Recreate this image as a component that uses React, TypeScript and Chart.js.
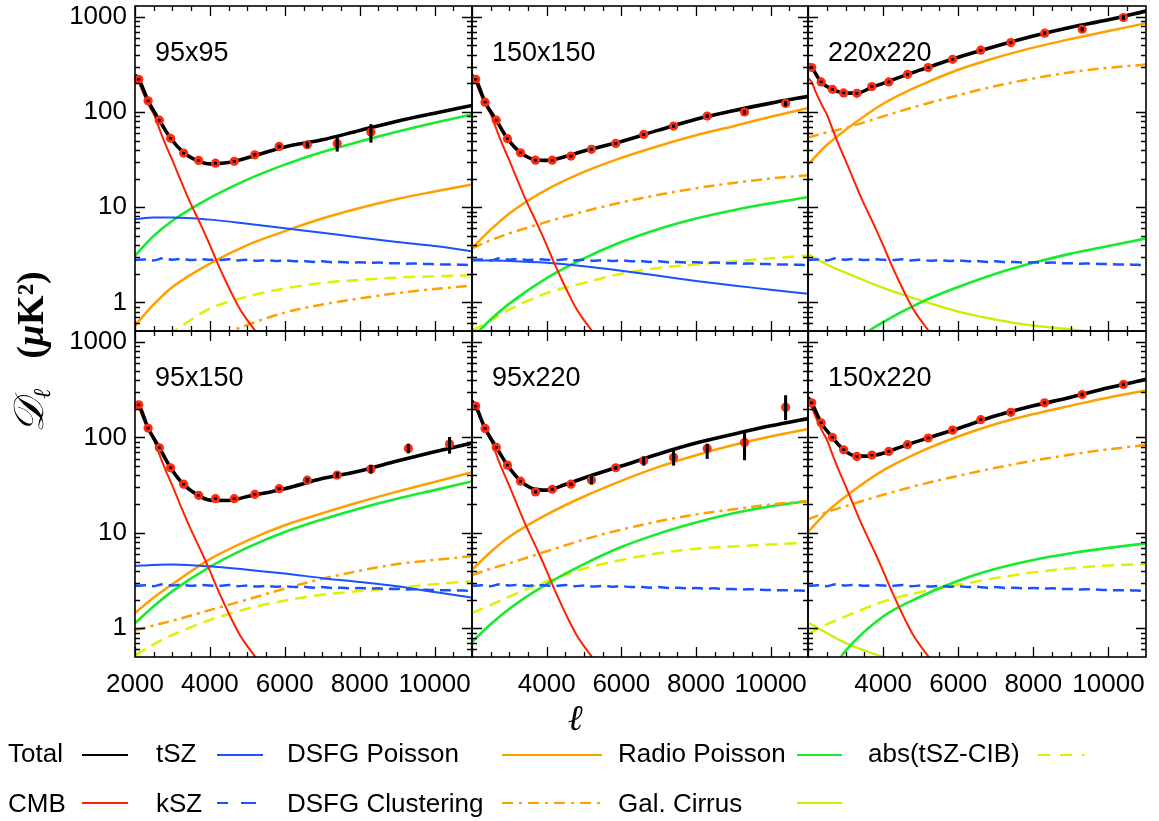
import React, { useEffect, useRef } from "react";
import { Chart, registerables } from "chart.js";

Chart.register(...registerables);

// ---------------- data ----------------
const ELL_GRID = [2000, 2500, 3000, 4000, 5000, 6000, 7000, 8000, 9000, 10000, 11000];
const TOTAL_ELL = [2000, 2100, 2350, 2650, 2950, 3300, 3700, 4000, 4500, 5000, 6000, 7000, 8000, 9000, 10000, 11000];
const DATA_ELL = [2100, 2350, 2650, 2950, 3300, 3700, 4150, 4650, 5200, 5850, 6600, 7400, 8300, 9300, 10400];

const CMB_ELL = [2000, 2100, 2200, 2300, 2400, 2500, 2600, 2800, 3000, 3200, 3400, 3600, 3800, 4000, 4200, 4400, 4600, 4800, 5000, 5300, 5600];
const CMB_VALUES = [228, 205, 165, 135, 112, 95, 75, 47, 31, 20, 13, 8.8, 6.0, 4.0, 2.6, 1.75, 1.2, 0.85, 0.65, 0.45, 0.3];

const KSZ_ELL = [2000, 2250, 2500, 2750, 3000, 3250, 3500, 3750, 4000, 4250, 4500, 4750, 5000, 5250, 5500, 5750, 6000, 6250, 6500, 6750, 7000, 7250, 7500, 7750, 8000, 8250, 8500, 8750, 9000, 9250, 9500, 9750, 10000, 10250, 10500, 10750, 11000];
const KSZ_VALUES = [2.78, 2.82, 2.76, 2.9, 2.8, 2.86, 2.78, 2.84, 2.8, 2.78, 2.84, 2.76, 2.8, 2.74, 2.78, 2.72, 2.76, 2.7, 2.72, 2.66, 2.7, 2.64, 2.66, 2.62, 2.64, 2.6, 2.62, 2.58, 2.58, 2.55, 2.56, 2.53, 2.52, 2.5, 2.5, 2.48, 2.47];

// 95x95
const TOTAL_95x95 = [245, 221, 131, 82, 53, 37.5, 30.5, 28.5, 29.5, 33, 43, 51, 64, 80, 97, 117];
const DATA_95x95 = [221, 131, 82, 53, 37, 31, 29, 30.3, 35.5, 43.5, 45.3, 46.8, 61.5];
const LO_95x95 = [218, 129, 80.5, 52, 36.3, 30.3, 28.3, 29.5, 34.5, 42, 42.5, 38.7, 48];
const HI_95x95 = [224, 133, 83.5, 54, 37.7, 31.7, 29.7, 31.1, 36.5, 45, 48.5, 55.6, 74];
const TSZ_95x95 = [7.5, 7.8, 7.8, 7.4, 6.7, 6.0, 5.4, 4.8, 4.3, 3.9, 3.45];
const RADIO_95x95 = [3.1, 5.0, 7.2, 12.5, 19.5, 28, 38, 49, 62, 77, 94];
const DSFGP_95x95 = [0.57, 0.95, 1.45, 2.55, 4.0, 5.6, 7.6, 9.8, 12.2, 14.6, 17.3];
const DSFGC_95x95 = [0.17, 0.22, 0.28, 0.4, 0.58, 0.78, 0.95, 1.1, 1.25, 1.38, 1.5];
const TSZCIB_95x95 = [0.28, 0.38, 0.49, 0.86, 1.15, 1.4, 1.6, 1.72, 1.82, 1.88, 1.93];

// 150x150
const TOTAL_150x150 = [243, 221, 127, 82, 52.5, 37.5, 31.5, 31, 34, 39, 49, 64.5, 84, 103, 124, 146];
const DATA_150x150 = [221, 127, 82, 52.4, 37.3, 31.2, 31.2, 34.4, 40.5, 46.8, 58.2, 71.2, 90.8, 100, 123];
const LO_150x150 = [218, 125.5, 81, 51.6, 36.7, 30.7, 30.7, 33.8, 39.7, 45.8, 56.8, 69.2, 87.8, 95.5, 116];
const HI_150x150 = [224, 128.5, 83, 53.2, 37.9, 31.7, 31.7, 35, 41.3, 47.8, 59.6, 73.2, 93.8, 104.5, 130];
const TSZ_150x150 = [2.75, 2.75, 2.72, 2.6, 2.4, 2.15, 1.9, 1.68, 1.5, 1.36, 1.23];
const RADIO_150x150 = [0.42, 0.66, 0.97, 1.8, 2.9, 4.3, 5.9, 7.6, 9.3, 11, 12.7];
const DSFGP_150x150 = [3.7, 5.8, 8.6, 15.3, 23.5, 33, 44, 57, 71, 89, 110];
const DSFGC_150x150 = [3.7, 4.5, 5.3, 7.0, 9.0, 11.2, 13.5, 15.8, 18, 20, 21.7];
const TSZCIB_150x150 = [0.5, 0.65, 0.84, 1.25, 1.6, 2.0, 2.3, 2.5, 2.7, 2.9, 3.1];

// 220x220
const TOTAL_220x220 = [320, 293, 207, 173, 159, 158, 182, 200, 237, 277, 376, 491, 628, 776, 930, 1150];
const DATA_220x220 = [293, 207, 173, 158.6, 157, 185, 207, 249, 293, 358, 446, 537, 673, 741, 984];
const LO_220x220 = [289, 204, 170.5, 156, 154.5, 182, 203, 245, 287, 350, 436, 522, 650, 710, 935];
const HI_220x220 = [297, 210, 175.5, 161, 159.5, 188, 211, 253, 299, 366, 456, 552, 696, 772, 1035];
const RADIO_220x220 = [0.155, 0.24, 0.345, 0.62, 1.0, 1.45, 2.0, 2.6, 3.25, 3.9, 4.7];
const DSFGP_220x220 = [28, 45, 65, 122, 192, 278, 372, 475, 585, 710, 855];
const DSFGC_220x220 = [54, 61, 68, 90, 118, 150, 188, 225, 262, 292, 315];
const CIRRUS_220x220 = [3.2, 2.5, 2.05, 1.42, 1.05, 0.8, 0.66, 0.57, 0.52, 0.47, 0.43];

// 95x150
const TOTAL_95x150 = [232, 219, 125, 78, 48, 32, 24.5, 22, 21.8, 24, 29, 37, 44.5, 56.5, 70.5, 87];
const DATA_95x150 = [219, 125, 77.8, 48, 32.3, 24.7, 22.8, 22.8, 25.3, 29, 35.6, 40.2, 46.5, 76.6, 85.1];
const LO_95x150 = [216, 123.3, 76.8, 47.3, 31.8, 24.3, 22.4, 22.4, 24.8, 28.2, 34, 37.8, 42, 68.5, 68];
const HI_95x150 = [222, 126.7, 78.8, 48.7, 32.8, 25.1, 23.2, 23.2, 25.8, 29.8, 37.2, 42.8, 51, 85, 100];
const TSZ_95x150 = [4.5, 4.6, 4.65, 4.45, 4.1, 3.75, 3.35, 3.05, 2.75, 2.4, 2.1];
const RADIO_95x150 = [1.13, 1.7, 2.45, 4.4, 7.0, 10.2, 13.8, 18, 22.7, 28, 34.5];
const DSFGP_95x150 = [1.45, 2.1, 2.9, 5.3, 8.3, 12, 16, 21, 27, 34, 43];
const DSFGC_95x150 = [0.95, 1.07, 1.2, 1.55, 2.0, 2.6, 3.3, 4.0, 4.7, 5.2, 5.7];
const TSZCIB_95x150 = [0.52, 0.68, 0.85, 1.22, 1.6, 1.95, 2.25, 2.45, 2.65, 2.9, 3.1];

// 95x220
const TOTAL_95x220 = [240, 212, 124, 79, 51, 35, 28.5, 28, 32, 37.5, 50, 67, 87, 108, 132, 157];
const DATA_95x220 = [212, 124, 78.5, 51.1, 34.7, 26.8, 28.6, 32.3, 35.8, 48, 56.8, 61.5, 76.6, 88.5, 207];
const LO_95x220 = [209, 122.3, 77.4, 50.3, 33.9, 26.1, 27.8, 31.3, 32.3, 46.2, 51, 51, 60, 58, 153];
const HI_95x220 = [215, 125.7, 79.6, 51.9, 35.5, 27.5, 29.4, 33.3, 39.5, 49.8, 62.5, 72, 85, 117, 274];
const RADIO_95x220 = [0.72, 1.1, 1.6, 2.9, 4.7, 7.1, 9.8, 12.8, 16, 19, 21.5];
const DSFGP_95x220 = [4.1, 6.3, 9.1, 15.5, 24, 35, 49, 65, 83, 102, 122];
const DSFGC_95x220 = [3.6, 4.2, 4.8, 6.4, 8.5, 10.8, 13.2, 15.6, 17.6, 19.8, 21.5];
const TSZCIB_95x220 = [1.45, 1.75, 2.15, 3.1, 4.2, 5.2, 6.1, 6.8, 7.2, 7.55, 7.85];

// 150x220
const TOTAL_150x220 = [262, 230, 142, 100, 74, 63.5, 64, 68, 80, 93, 124, 168, 214, 263, 330, 405];
const DATA_150x220 = [230, 142, 100, 74.1, 63.1, 65.2, 71.2, 83.7, 98.4, 119, 153, 183, 230, 281, 358];
const LO_150x220 = [227, 140, 98.5, 73, 62.2, 64.2, 70.2, 82.5, 97, 117, 150, 179, 224, 271, 346];
const HI_150x220 = [233, 144, 101.5, 75.2, 64, 66.2, 72.2, 84.9, 99.8, 121, 156, 187, 236, 291, 370];
const RADIO_150x220 = [0.16, 0.3, 0.58, 1.33, 2.15, 3.15, 4.2, 5.2, 6.1, 6.95, 7.75];
const DSFGP_150x220 = [10.2, 16.5, 24, 45, 71, 102, 138, 175, 215, 262, 310];
const DSFGC_150x220 = [13.8, 16.5, 19, 25, 32, 39.5, 48, 57, 66, 75, 83];
const TSZCIB_150x220 = [0.87, 1.1, 1.33, 1.9, 2.4, 2.85, 3.35, 3.85, 4.25, 4.55, 4.7];
const CIRRUS_150x220 = [1.15, 0.89, 0.7, 0.5, 0.38, 0.3, 0.25, 0.22, 0.2, 0.18, 0.17];

// ticks
const X_LABELS_FIRST = [2000, 4000, 6000, 8000, 10000];
const X_LABELS_OTHER = [4000, 6000, 8000, 10000];
const Y_LABELS = [1, 10, 100, 1000];
const X_MAJOR_TICKS = [2000, 4000, 6000, 8000, 10000];
const X_MINOR_TICKS = [2500, 3000, 3500, 4500, 5000, 5500, 6500, 7000, 7500, 8500, 9000, 9500, 10500];
const Y_MAJOR_TICKS = [1, 10, 100, 1000];
const Y_MINOR_TICKS = [0.6, 0.7, 0.8, 0.9, 2, 3, 4, 5, 6, 7, 8, 9, 20, 30, 40, 50, 60, 70, 80, 90, 200, 300, 400, 500, 600, 700, 800, 900];

// ---------------- layout / style ----------------
const W = 1159;
const H = 821;
const COLS = [135, 472, 808, 1146];
const ROWS = [6, 331, 657];
const YW = 80;
const XH = 50;

const C_TOTAL = "#000000";
const C_CMB = "#ff2200";
const C_TSZ = "#1a50ff";
const C_DSFGP = "#ffa000";
const C_RADIO = "#14ec2c";
const C_TSZCIB = "#e0f000";
const C_CIRRUS = "#d2ec00";
const C_POINT = "#ff2a10";

const FONT = "'Liberation Sans', Arial, Helvetica, sans-serif";

type Panel = {
  label: string;
  col: number;
  row: number;
  total: number[];
  data: number[];
  lo: number[];
  hi: number[];
  tsz?: number[];
  radio: number[];
  dsfgp: number[];
  dsfgc: number[];
  tszcib?: number[];
  cirrus?: number[];
};

const PANELS: Panel[] = [
  { label: "95x95", col: 0, row: 0, total: TOTAL_95x95, data: DATA_95x95, lo: LO_95x95, hi: HI_95x95, tsz: TSZ_95x95, radio: RADIO_95x95, dsfgp: DSFGP_95x95, dsfgc: DSFGC_95x95, tszcib: TSZCIB_95x95 },
  { label: "150x150", col: 1, row: 0, total: TOTAL_150x150, data: DATA_150x150, lo: LO_150x150, hi: HI_150x150, tsz: TSZ_150x150, radio: RADIO_150x150, dsfgp: DSFGP_150x150, dsfgc: DSFGC_150x150, tszcib: TSZCIB_150x150 },
  { label: "220x220", col: 2, row: 0, total: TOTAL_220x220, data: DATA_220x220, lo: LO_220x220, hi: HI_220x220, radio: RADIO_220x220, dsfgp: DSFGP_220x220, dsfgc: DSFGC_220x220, cirrus: CIRRUS_220x220 },
  { label: "95x150", col: 0, row: 1, total: TOTAL_95x150, data: DATA_95x150, lo: LO_95x150, hi: HI_95x150, tsz: TSZ_95x150, radio: RADIO_95x150, dsfgp: DSFGP_95x150, dsfgc: DSFGC_95x150, tszcib: TSZCIB_95x150 },
  { label: "95x220", col: 1, row: 1, total: TOTAL_95x220, data: DATA_95x220, lo: LO_95x220, hi: HI_95x220, radio: RADIO_95x220, dsfgp: DSFGP_95x220, dsfgc: DSFGC_95x220, tszcib: TSZCIB_95x220 },
  { label: "150x220", col: 2, row: 1, total: TOTAL_150x220, data: DATA_150x220, lo: LO_150x220, hi: HI_150x220, radio: RADIO_150x220, dsfgp: DSFGP_150x220, dsfgc: DSFGC_150x220, tszcib: TSZCIB_150x220, cirrus: CIRRUS_150x220 },
];

const pts = (xs: number[], ys: number[]) => ys.map((y, i) => ({ x: xs[i], y }));

function lineDs(data: any[], color: string, width: number, order: number, dash: number[] = []) {
  return {
    type: "line",
    data,
    borderColor: color,
    backgroundColor: color,
    borderWidth: width,
    borderDash: dash,
    pointRadius: 0,
    fill: false,
    cubicInterpolationMode: "monotone",
    order,
  };
}

const frameTicks = {
  id: "frameTicks",
  afterDatasetsDraw(chart: any) {
    const { ctx, chartArea: a, scales } = chart;
    const x = scales.x;
    const y = scales.y;
    ctx.save();
    ctx.strokeStyle = "#000";
    ctx.lineWidth = 1.3;
    ctx.beginPath();
    const xt = (vals: number[], len: number) => {
      vals.forEach((v) => {
        const px = Math.round(x.getPixelForValue(v)) + 0.5;
        ctx.moveTo(px, a.bottom);
        ctx.lineTo(px, a.bottom - len);
        ctx.moveTo(px, a.top);
        ctx.lineTo(px, a.top + len);
      });
    };
    const yt = (vals: number[], len: number) => {
      vals.forEach((v) => {
        const py = Math.round(y.getPixelForValue(v)) + 0.5;
        ctx.moveTo(a.left, py);
        ctx.lineTo(a.left + len, py);
        ctx.moveTo(a.right, py);
        ctx.lineTo(a.right - len, py);
      });
    };
    xt(X_MAJOR_TICKS, 10);
    xt(X_MINOR_TICKS, 5);
    yt(Y_MAJOR_TICKS, 10);
    yt(Y_MINOR_TICKS, 5);
    ctx.stroke();
    ctx.lineWidth = 1.6;
    ctx.strokeRect(a.left, a.top, a.right - a.left, a.bottom - a.top);
    ctx.restore();
  },
};

function buildConfig(p: Panel): any {
  const left = COLS[p.col];
  const right = COLS[p.col + 1];
  const top = ROWS[p.row];
  const bottom = ROWS[p.row + 1];
  const showY = p.col === 0;
  const showX = p.row === 1;
  const xLabels = p.col === 0 ? X_LABELS_FIRST : X_LABELS_OTHER;

  const datasets: any[] = [];
  datasets.push({
    type: "bar",
    data: DATA_ELL.slice(0, p.data.length).map((l, i) => ({ x: l, y: [p.lo[i], p.hi[i]] })),
    backgroundColor: "#000",
    borderWidth: 0,
    barThickness: 2.4,
    grouped: false,
    order: 0,
  });
  datasets.push({
    type: "line",
    data: pts(DATA_ELL, p.data),
    showLine: false,
    pointStyle: "rect",
    pointRadius: 1.8,
    pointBackgroundColor: "#000",
    pointBorderWidth: 0,
    order: 1,
    clip: 6,
  });
  datasets.push({
    type: "line",
    data: pts(DATA_ELL, p.data),
    showLine: false,
    pointStyle: "circle",
    pointRadius: 4.6,
    pointBackgroundColor: C_POINT,
    pointBorderWidth: 0,
    order: 2,
    clip: 6,
  });
  datasets.push(lineDs(pts(TOTAL_ELL, p.total), C_TOTAL, 3.6, 3));
  datasets.push(lineDs(pts(CMB_ELL, CMB_VALUES), C_CMB, 2.0, 4));
  if (p.tsz) datasets.push(lineDs(pts(ELL_GRID, p.tsz), C_TSZ, 2.0, 5));
  datasets.push(lineDs(pts(KSZ_ELL, KSZ_VALUES), C_TSZ, 2.5, 6, [11, 6]));
  datasets.push(lineDs(pts(ELL_GRID, p.dsfgp), C_DSFGP, 2.5, 7));
  datasets.push(lineDs(pts(ELL_GRID, p.dsfgc), C_DSFGP, 2.5, 8, [11, 5, 3, 5]));
  datasets.push(lineDs(pts(ELL_GRID, p.radio), C_RADIO, 2.6, 9));
  if (p.tszcib) datasets.push(lineDs(pts(ELL_GRID, p.tszcib), C_TSZCIB, 2.5, 10, [12, 7]));
  if (p.cirrus) datasets.push(lineDs(pts(ELL_GRID, p.cirrus), C_CIRRUS, 2.3, 11));

  return {
    type: "line",
    data: { datasets },
    options: {
      responsive: false,
      animation: false,
      events: [],
      layout: {
        padding: { left: left - YW, top, right: W - right, bottom: H - bottom - XH },
      },
      plugins: { legend: { display: false }, tooltip: { enabled: false }, title: { display: false } },
      scales: {
        x: {
          type: "linear",
          min: 2000,
          max: 11000,
          offset: false,
          afterBuildTicks: (s: any) => {
            s.ticks = xLabels.map((v) => ({ value: v }));
          },
          afterFit: (s: any) => {
            s.height = XH;
            s.paddingLeft = 0;
            s.paddingRight = 0;
          },
          grid: { display: false, drawTicks: false },
          border: { display: false },
          ticks: {
            display: showX,
            autoSkip: false,
            maxRotation: 0,
            minRotation: 0,
            padding: 12,
            color: "#000",
            font: { family: FONT, size: 26 },
            callback: (v: any) => String(v),
          },
        },
        y: {
          type: "logarithmic",
          min: 0.5,
          max: 1300,
          afterBuildTicks: (s: any) => {
            s.ticks = Y_LABELS.map((v) => ({ value: v }));
          },
          afterFit: (s: any) => {
            s.width = YW;
            s.paddingTop = 0;
            s.paddingBottom = 0;
          },
          grid: { display: false, drawTicks: false },
          border: { display: false },
          ticks: {
            display: showY,
            autoSkip: false,
            padding: 8,
            color: "#000",
            font: { family: FONT, size: 26 },
            callback: (v: any) => String(v),
          },
        },
      },
    },
    plugins: [frameTicks],
  };
}

// legend layout
const LEGEND_ROW1 = [
  { text: "Total", tx: 8, x1: 82, x2: 128, color: C_TOTAL, dash: "" },
  { text: "tSZ", tx: 156, x1: 217, x2: 263, color: C_TSZ, dash: "" },
  { text: "DSFG Poisson", tx: 287, x1: 502, x2: 602, color: C_DSFGP, dash: "" },
  { text: "Radio Poisson", tx: 618, x1: 797, x2: 842, color: C_RADIO, dash: "" },
  { text: "abs(tSZ-CIB)", tx: 868, x1: 1038, x2: 1085, color: C_TSZCIB, dash: "12 10" },
];
const LEGEND_ROW2 = [
  { text: "CMB", tx: 8, x1: 82, x2: 128, color: C_CMB, dash: "" },
  { text: "kSZ", tx: 156, x1: 217, x2: 256, color: C_TSZ, dash: "11 13 15" },
  { text: "DSFG Clustering", tx: 287, x1: 502, x2: 602, color: C_DSFGP, dash: "11 6 3 6" },
  { text: "Gal. Cirrus", tx: 618, x1: 797, x2: 842, color: C_CIRRUS, dash: "" },
];

export default function App() {
  const refs = useRef<(HTMLCanvasElement | null)[]>([]);

  useEffect(() => {
    const charts: Chart[] = [];
    PANELS.forEach((p, i) => {
      const c = refs.current[i];
      if (c) charts.push(new Chart(c, buildConfig(p)));
    });
    return () => charts.forEach((c) => c.destroy());
  }, []);

  return (
    <div style={{ position: "absolute", left: 0, top: 0, width: W, height: H, background: "#fff", overflow: "hidden" }}>
      {PANELS.map((p, i) => (
        <canvas
          key={p.label}
          ref={(el) => {
            refs.current[i] = el;
          }}
          width={W}
          height={H}
          style={{ position: "absolute", left: 0, top: 0, width: W, height: H }}
        />
      ))}
      <svg width={W} height={H} style={{ position: "absolute", left: 0, top: 0, pointerEvents: "none" }}>
        {PANELS.map((p) => (
          <text key={p.label} x={COLS[p.col] + 20} y={ROWS[p.row] + 55} fontFamily={FONT} fontSize={27} fill="#000">
            {p.label}
          </text>
        ))}
        <text
          transform="translate(43,352) rotate(-90)"
          textAnchor="middle"
          fontFamily="'Liberation Serif', 'DejaVu Serif', serif"
          fontWeight="bold"
          fontSize={38}
          fill="#000"
        >
          <tspan fontFamily="'DejaVu Serif', 'DejaVu Sans', serif" fontStyle="italic" fontWeight="normal" fontSize={42}>𝒟</tspan>
          <tspan fontFamily="'DejaVu Serif', serif" fontStyle="italic" fontWeight="normal" fontSize={24} dy={7}>ℓ</tspan>
          <tspan dy={-7} dx={30}>(</tspan>
          <tspan fontStyle="italic">μ</tspan>
          <tspan>K²)</tspan>
        </text>
        <text x={575} y={730} textAnchor="middle" fontFamily="'DejaVu Serif', serif" fontStyle="italic" fontSize={36} fill="#000">
          ℓ
        </text>
        {LEGEND_ROW1.map((it) => (
          <g key={it.text}>
            <text x={it.tx} y={762} fontFamily={FONT} fontSize={26} fill="#000">{it.text}</text>
            <line x1={it.x1} x2={it.x2} y1={755} y2={755} stroke={it.color} strokeWidth={2.2} strokeDasharray={it.dash || undefined} />
          </g>
        ))}
        {LEGEND_ROW2.map((it) => (
          <g key={it.text}>
            <text x={it.tx} y={812} fontFamily={FONT} fontSize={26} fill="#000">{it.text}</text>
            <line x1={it.x1} x2={it.x2} y1={803} y2={803} stroke={it.color} strokeWidth={2.2} strokeDasharray={it.dash || undefined} />
          </g>
        ))}
      </svg>
    </div>
  );
}
